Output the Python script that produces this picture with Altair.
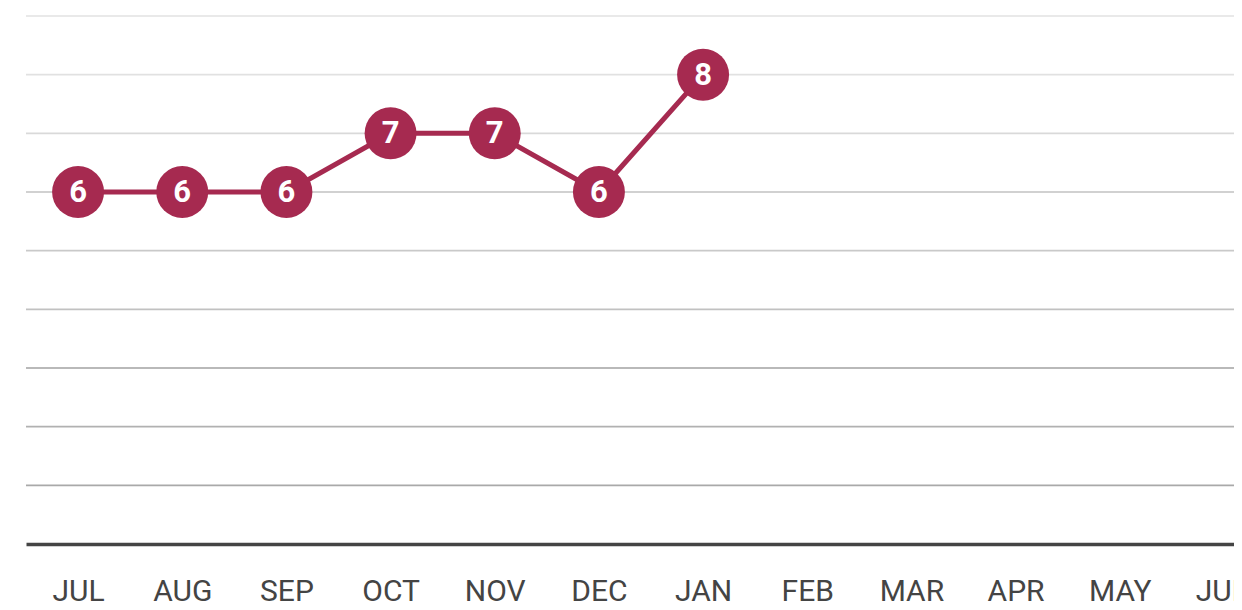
import altair as alt
import pandas as pd

months = ["JUL", "AUG", "SEP", "OCT", "NOV", "DEC", "JAN", "FEB", "MAR", "APR", "MAY", "JUN"]
values = [6, 6, 6, 7, 7, 6, 8]
grid_values = [1, 2, 3, 4, 5, 6, 7, 8, 9]

df = pd.DataFrame({"month": months[:len(values)], "value": values})
grid_df = pd.DataFrame({"g": grid_values})
all_months = pd.DataFrame({"month": months})

x_scale = alt.Scale(type="point", domain=months, padding=0.5, range=[0, 1250])
y_scale = alt.Scale(domain=[0, 9], nice=False, zero=True)

base_axis = alt.Axis(
    title=None, ticks=False, domain=True, domainColor="#444444", domainWidth=3.5,
    labelFontSize=30, labelColor="#444444", labelFont="Roboto", labelPadding=32,
    labelAngle=0, labelOverlap=False, grid=False,
)

grid = alt.Chart(grid_df).mark_rule(strokeWidth=1.8).encode(
    y=alt.Y("g:Q", scale=y_scale, axis=None),
    color=alt.Color("g:Q", scale=alt.Scale(domain=[1, 9], range=["#a9a9a9", "#e9e9e9"]), legend=None),
)

xaxis = alt.Chart(all_months).mark_point(opacity=0).encode(
    x=alt.X("month:N", scale=x_scale, sort=months, axis=base_axis),
)

line = alt.Chart(df).mark_line(color="#A62A50", strokeWidth=5).encode(
    x=alt.X("month:N", scale=x_scale, sort=months),
    y=alt.Y("value:Q", scale=y_scale),
)

pts = alt.Chart(df).mark_circle(color="#A62A50", size=2700, opacity=1).encode(
    x=alt.X("month:N", scale=x_scale, sort=months),
    y=alt.Y("value:Q", scale=y_scale),
)

labels = alt.Chart(df).mark_text(color="white", fontSize=31, fontWeight="bold", font="Roboto", baseline="middle", dy=1).encode(
    x=alt.X("month:N", scale=x_scale, sort=months),
    y=alt.Y("value:Q", scale=y_scale),
    text=alt.Text("value:Q"),
)

chart = alt.layer(grid, xaxis, line, pts, labels).properties(
    width=1208, height=528,
    padding={"left": 18, "top": 8, "right": 0, "bottom": 64},
    autosize=alt.AutoSizeParams(type="none"),
).configure_view(stroke=None)

chart.save("out.html", embed_options={"renderer": "svg", "actions": False})
